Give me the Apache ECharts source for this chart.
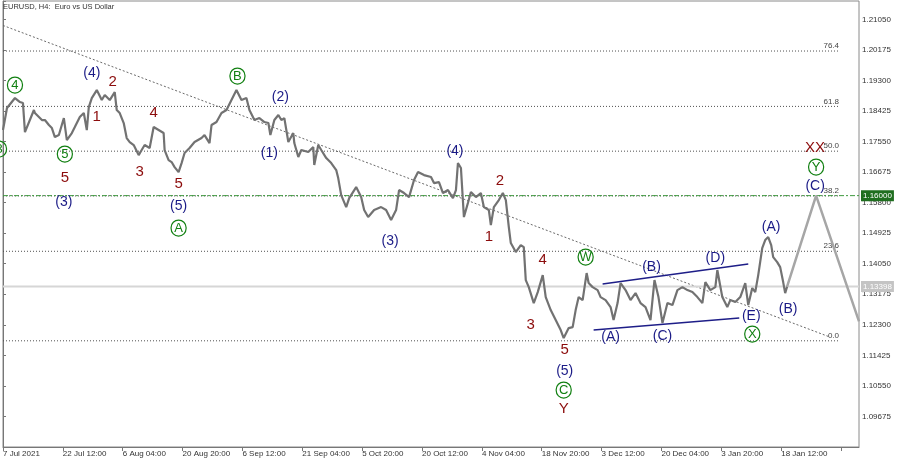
<!DOCTYPE html>
<html><head><meta charset="utf-8">
<script src="https://cdn.jsdelivr.net/npm/echarts@6/dist/echarts.min.js"></script>
<style>html,body{margin:0;padding:0;background:#fff}#c{width:900px;height:461px}</style>
</head><body><div id="c"></div>
<script>
// ---- data ----
const chartTitle = 'EURUSD, H4:  Euro vs US Dollar';
const timeLabels = ['7 Jul 2021','22 Jul 12:00','6 Aug 04:00','20 Aug 20:00','6 Sep 12:00','21 Sep 04:00','5 Oct 20:00','20 Oct 12:00','4 Nov 04:00','18 Nov 20:00','3 Dec 12:00','20 Dec 04:00','3 Jan 20:00','18 Jan 12:00'];
const yTickLabels = ['1.09675','1.10550','1.11425','1.12300','1.13175','1.14050','1.14925','1.15800','1.16675','1.17550','1.18425','1.19300','1.20175','1.21050'];
const barIndex = [0,4,12,14,17,20,22,31,32,39,42,46,49,52,56,61,64,69,72,77,81,84,86,89,94,99,102,107,112,114,117,121,124,127,131,136,139,142,147,151,156,161,162,166,169,172,176,179,182,187,192,199,202,207,209,214,219,224,229,234,239,244,247,252,257,262,266,268,272,276,279,282,286,291,292,296,299,306,311,312,316,319,324,329,334,336,339,344,347,354,359,362,366,372,379,384,389,394,397,402,407,412,416,422,429,432,437,441,446,451,454,456,459,462,466,469,474,479,482,487,489,492,497,501,504,507,509,514,519,522,524,527,532,536,541,544,549,554,559,562,567,571,574,577,581,585,587,591,596,599,604,609,612,616,619,624,629,634,639,644,649,653,657,661,666,671,676,681,686,691,696,701,704,709,714,716,721,726,729,734,739,744,747,751,754,757,761,764,767,770,772,776,779,782,784,786];
const barClose = [1.17879,1.18509,1.18795,1.18824,1.18681,1.18652,1.17821,1.18452,1.18366,1.18165,1.18165,1.18022,1.17936,1.17678,1.17735,1.18222,1.17592,1.17793,1.17964,1.18251,1.18366,1.17879,1.18537,1.18795,1.19024,1.18738,1.18881,1.18738,1.18967,1.18452,1.18366,1.18079,1.17649,1.17535,1.17449,1.17162,1.17306,1.17449,1.17363,1.17964,1.17879,1.17793,1.17306,1.17019,1.16962,1.16818,1.16675,1.16933,1.17220,1.17363,1.17535,1.17649,1.17735,1.17506,1.18022,1.18108,1.18366,1.18452,1.18738,1.19024,1.18738,1.18795,1.18452,1.18165,1.18222,1.18108,1.18079,1.17735,1.18165,1.18308,1.18165,1.18222,1.17535,1.17793,1.17506,1.17105,1.17306,1.17248,1.17391,1.16876,1.17449,1.17306,1.17076,1.16933,1.16733,1.16503,1.16016,1.15672,1.15930,1.16245,1.15959,1.15587,1.15386,1.15587,1.15672,1.15587,1.15300,1.15587,1.16160,1.16074,1.15959,1.16446,1.16675,1.16589,1.16532,1.16360,1.16389,1.16074,1.16160,1.15930,1.16160,1.16933,1.16790,1.15386,1.15787,1.16102,1.15959,1.16074,1.15672,1.15587,1.15157,1.15672,1.15873,1.16074,1.15873,1.15099,1.14641,1.14383,1.14584,1.14526,1.13581,1.13380,1.12922,1.13237,1.13724,1.13094,1.12722,1.12435,1.12149,1.11919,1.12206,1.12234,1.12722,1.13094,1.13008,1.13782,1.13495,1.13380,1.13295,1.13094,1.13008,1.12807,1.12435,1.12922,1.13495,1.13295,1.13008,1.13209,1.12922,1.12807,1.12435,1.13581,1.13094,1.12349,1.12922,1.12865,1.13295,1.13380,1.13295,1.13237,1.13094,1.12922,1.13524,1.13295,1.13380,1.13868,1.13094,1.12807,1.13008,1.12951,1.13094,1.13495,1.12865,1.13352,1.13237,1.13724,1.14498,1.14727,1.14813,1.14584,1.14240,1.14097,1.13953,1.13524,1.13209,1.13398];
const forecastIndex = [786, 815, 858];
const forecastPrice = [1.13398, 1.16000, 1.12400];
const trendIndex = [0, 829];
const trendPrice = [1.20875, 1.11948];
const fibNames = ['0.0','23.6','38.2','50.0','61.8','76.4'];
const fibPrices = [1.11842, 1.14406, 1.15992, 1.17274, 1.18556, 1.20142];
const fibEndIndex = 837;
const upperChannelIndex = [601, 747];
const upperChannelPrice = [1.13466, 1.14040];
const lowerChannelIndex = [592, 738];
const lowerChannelPrice = [1.12149, 1.12492];
const targetLevel = 1.16000;
const currentPrice = 1.13398;
// wave labels: [text, barIndex, price, degree]
const waveLabels = [
  ['3',-4,1.17334,'circ'],['4',12,1.19168,'circ'],['5',62,1.17191,'circ'],['B',235,1.19426,'circ'],
  ['A',176,1.15071,'circ'],['W',584,1.14240,'circ'],['X',751,1.12034,'circ'],['Y',815,1.16818,'circ'],['C',562,1.10430,'circ'],
  ['2',110,1.19254,'red'],['1',94,1.18251,'red'],['4',151,1.18366,'red'],['3',137,1.16675,'red'],['5',176,1.16331,'red'],
  ['5',62,1.16503,'red'],['2',498,1.16417,'red'],['1',487,1.14813,'red'],['4',541,1.14154,'red'],['3',529,1.12292,'red'],
  ['5',563,1.11575,'red'],['Y',562,1.09885,'red'],['XX',814,1.17363,'red'],
  ['(4)',89,1.19512,'navy'],['(2)',278,1.18824,'navy'],['(1)',267,1.17220,'navy'],['(3)',61,1.15816,'navy'],['(5)',176,1.15701,'navy'],
  ['(3)',388,1.14698,'navy'],['(4)',453,1.17277,'navy'],['(5)',563,1.10974,'navy'],
  ['(B)',650,1.13953,'navy'],['(D)',714,1.14211,'navy'],['(A)',609,1.11948,'navy'],['(C)',661,1.11977,'navy'],['(E)',750,1.12550,'navy'],
  ['(A)',770,1.15099,'navy'],['(B)',787,1.12750,'navy'],['(C)',814,1.16274,'navy']
];

// ---- chart ----
const FONT = 'Liberation Sans, Arial, sans-serif';
const zip = (a, b) => a.map((v, i) => [v, b[i]]);
const base = {type:'line', symbol:'none', silent:true, animation:false};
const series = [];

fibPrices.forEach((p, i) => {
  series.push(Object.assign({}, base, {
    data: [[0, p], [fibEndIndex, p]], z: 1,
    lineStyle: {color:'#505050', width:1, type:[1,2]}
  }));
});
series.push({
  type:'scatter', symbolSize:0, silent:true, animation:false, clip:false, z:3,
  itemStyle:{opacity:1},
  data: fibPrices.map((p, i) => ({value:[fibEndIndex + 1, p], name: fibNames[i]})),
  label:{show:true, formatter: p => p.name, position:[0,-5], align:'right', verticalAlign:'middle',
    fontSize:8, fontFamily:FONT, color:'#444'}
});
series.push(Object.assign({}, base, {
  data: zip(trendIndex, trendPrice), z: 1,
  lineStyle: {color:'#6a6a6a', width:1, type:[2,2]}
}));
series.push(Object.assign({}, base, {
  data: [[0, currentPrice], [858, currentPrice]], z: 1,
  lineStyle: {color:'#d6d6d6', width:2},
  endLabel: {show:true, formatter: currentPrice.toFixed(5), distance:2, backgroundColor:'#c4c4c4',
    color:'#fff', fontSize:8, fontFamily:FONT, padding:[2,2,1,2]}
}));
series.push(Object.assign({}, base, {
  data: [[0, targetLevel], [858, targetLevel]], z: 2,
  lineStyle: {color:'#3f9a3f', width:1, type:[5,2,2,2]},
  endLabel: {show:true, formatter: targetLevel.toFixed(5), distance:2, backgroundColor:'#1f6e1f',
    color:'#fff', fontSize:8, fontFamily:FONT, padding:[2,2,1,2]}
}));
series.push(Object.assign({}, base, {
  data: zip(barIndex, barClose), z: 4,
  lineStyle: {color:'#727272', width:2.2}
}));
series.push(Object.assign({}, base, {
  data: zip(upperChannelIndex, upperChannelPrice), z: 5,
  lineStyle: {color:'#1e1e88', width:1.5}
}));
series.push(Object.assign({}, base, {
  data: zip(lowerChannelIndex, lowerChannelPrice), z: 5,
  lineStyle: {color:'#1e1e88', width:1.5}
}));
series.push(Object.assign({}, base, {
  data: zip(forecastIndex, forecastPrice), z: 5,
  lineStyle: {color:'#a6a6a6', width:2.5}
}));
series.push({
  type:'scatter', symbolSize:0, silent:true, animation:false, clip:false, z:6,
  itemStyle:{opacity:1},
  data: waveLabels.map(w => ({value:[w[1], w[2]], name:w[0], kind:w[3]})),
  label:{show:true, position:[0,0], align:'center', verticalAlign:'middle',
    formatter: p => '{' + p.data.kind + '|' + p.name + '}',
    rich:{
      circ:{color:'#128012', fontSize:13, fontFamily:FONT, width:15, height:15, lineHeight:16, align:'center',
        borderColor:'#128012', borderWidth:1.2, borderRadius:9, padding:[1,0,0,0]},
      red:{color:'#8c0c0c', fontSize:15, fontFamily:FONT},
      navy:{color:'#1a1a86', fontSize:14, fontFamily:FONT}
    }}
});

const chart = echarts.init(document.getElementById('c'), null, {renderer:'canvas'});
chart.setOption({
  animation:false,
  backgroundColor:'#fff',
  title:{text:chartTitle, left:3, top:3, padding:0, textStyle:{fontSize:7.5, fontWeight:'normal', color:'#333', fontFamily:FONT}},
  grid:{left:1, right:41, top:1, bottom:14, show:true, borderColor:'#8a8a8a', borderWidth:1, backgroundColor:'#fff'},
  xAxis:{type:'value', min:0, max:858, interval:60,
    splitLine:{show:false},
    axisLine:{show:true, lineStyle:{color:'#777'}},
    axisTick:{show:true, length:4, lineStyle:{color:'#777'}},
    axisLabel:{fontSize:8, fontFamily:FONT, color:'#333', align:'left', margin:3, showMinLabel:true, showMaxLabel:false,
      formatter: v => (Math.abs(v % 60) < 1e-6 && timeLabels[Math.round(v/60)]) ? timeLabels[Math.round(v/60)] : ''}
  },
  yAxis:{type:'value', position:'right', min:1.08800, max:1.21575, interval:0.00875,
    splitLine:{show:false},
    axisLine:{show:true, lineStyle:{color:'#777'}},
    axisTick:{show:true, length:3, lineStyle:{color:'#777'}},
    axisLabel:{fontSize:8, fontFamily:FONT, color:'#333', margin:3,
      formatter: v => yTickLabels.indexOf(v.toFixed(5)) >= 0 ? v.toFixed(5) : ''}
  },
  series: series
});
</script>
</body></html>
